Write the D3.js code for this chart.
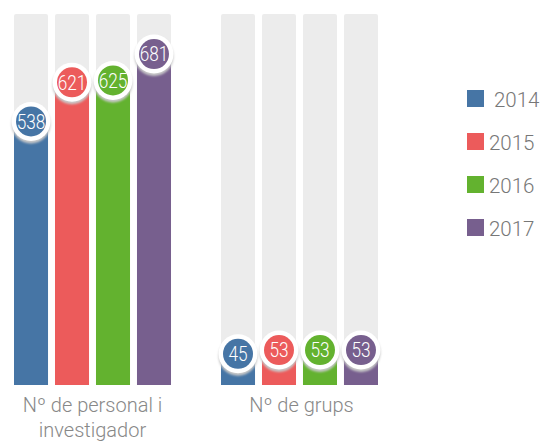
<!DOCTYPE html>
<html>
<head>
<meta charset="utf-8">
<style>
body { margin: 0; background: #fff; }
text { font-family: "Helvetica Neue", Roboto, "Liberation Sans", sans-serif; }
</style>
</head>
<body>
<div id="chart"></div>
<script src="https://d3js.org/d3.v7.min.js"></script>
<script>
// data
var categories = ["Nº de personal i investigador", "Nº de grups"];
var years = ["2014", "2015", "2016", "2017"];
var personal = [538, 621, 625, 681];
var grups = [45, 53, 53, 53];
var colors = ["#4675a5", "#ec5b5b", "#63b22f", "#775f8e"];

var values = [personal, grups];

var W = 541, H = 443;
var trackTop = 14, baseY = 385;

var svg = d3.select("#chart").append("svg")
    .attr("width", W).attr("height", H);

var x0 = d3.scaleBand().domain(categories).range([14, 378])
    .paddingInner(0.2415).paddingOuter(0);
var x1 = d3.scaleBand().domain(years).range([0, x0.bandwidth()])
    .paddingInner(0.17).paddingOuter(0);
// circle centre sits at y(v)
var y = d3.scaleLinear().domain([0, 766]).range([375, trackTop]);
var color = d3.scaleOrdinal().domain(years).range(colors);

var defs = svg.append("defs");
var f = defs.append("filter").attr("id", "sh")
    .attr("x", "-50%").attr("y", "-50%").attr("width", "200%").attr("height", "200%");
f.append("feGaussianBlur").attr("stdDeviation", 0.8);

categories.forEach(function (c, ci) {
    var g = svg.append("g").attr("transform", "translate(" + x0(c) + ",0)");
    var rows = years.map(function (yr, i) { return { year: yr, value: values[ci][i] }; });

    // grey track
    g.selectAll("rect.bg").data(rows).enter().append("rect")
        .attr("class", "bg")
        .attr("x", function (d) { return x1(d.year); })
        .attr("y", trackTop)
        .attr("width", x1.bandwidth())
        .attr("height", baseY - trackTop)
        .attr("rx", 2)
        .attr("fill", "#ececec");

    g.selectAll("rect.bar").data(rows).enter().append("rect")
        .attr("class", "bar")
        .attr("x", function (d) { return x1(d.year); })
        .attr("y", function (d) { return y(d.value); })
        .attr("width", x1.bandwidth())
        .attr("height", function (d) { return baseY - y(d.value); })
        .attr("fill", function (d) { return color(d.year); });

    var b = g.selectAll("g.badge").data(rows).enter().append("g")
        .attr("class", "badge")
        .attr("transform", function (d) {
            return "translate(" + (x1(d.year) + x1.bandwidth() / 2) + "," + y(d.value) + ")";
        });
    b.append("circle").attr("cy", 2.5).attr("r", 19.5).attr("fill", "#c8c8c8")
        .attr("filter", "url(#sh)");
    b.append("circle").attr("r", 19.5).attr("fill", "#fff");
    b.append("circle").attr("r", 15).attr("fill", function (d) { return color(d.year); });
    b.append("text")
        .attr("transform", "scale(0.84,1)")
        .attr("text-anchor", "middle")
        .attr("dy", "0.36em")
        .attr("fill", "#fff")
        .style("font-size", "20.5px")
        .style("font-weight", 300)
        .text(function (d) { return d.value; });
});

// category labels
var labelLines = [["Nº de personal i", "investigador"], ["Nº de grups"]];
categories.forEach(function (c, ci) {
    var cx = x0(c) + x0.bandwidth() / 2 + (ci === 1 ? 2 : 0);
    var t = svg.append("text")
        .attr("x", cx)
        .attr("y", 412)
        .attr("text-anchor", "middle")
        .attr("fill", "#888")
        .style("font-size", "20px")
        .style("font-weight", 300);
    labelLines[ci].forEach(function (line, li) {
        t.append("tspan")
            .attr("x", cx)
            .attr("dy", li === 0 ? 0 : 25)
            .text(line);
    });
});

// legend
var lg = svg.append("g").attr("transform", "translate(467,90)");
var li = lg.selectAll("g").data(years).enter().append("g")
    .attr("transform", function (d, i) { return "translate(0," + (i * 43) + ")"; });
li.append("rect").attr("width", 17).attr("height", 17)
    .attr("fill", function (d) { return color(d); });
li.append("text")
    .attr("x", function (d, i) { return i === 0 ? 27 : 22; })
    .attr("y", 16.5)
    .attr("fill", "#777")
    .style("font-size", "20.5px")
    .style("font-weight", 300)
    .text(function (d) { return d; });
</script>
</body>
</html>
